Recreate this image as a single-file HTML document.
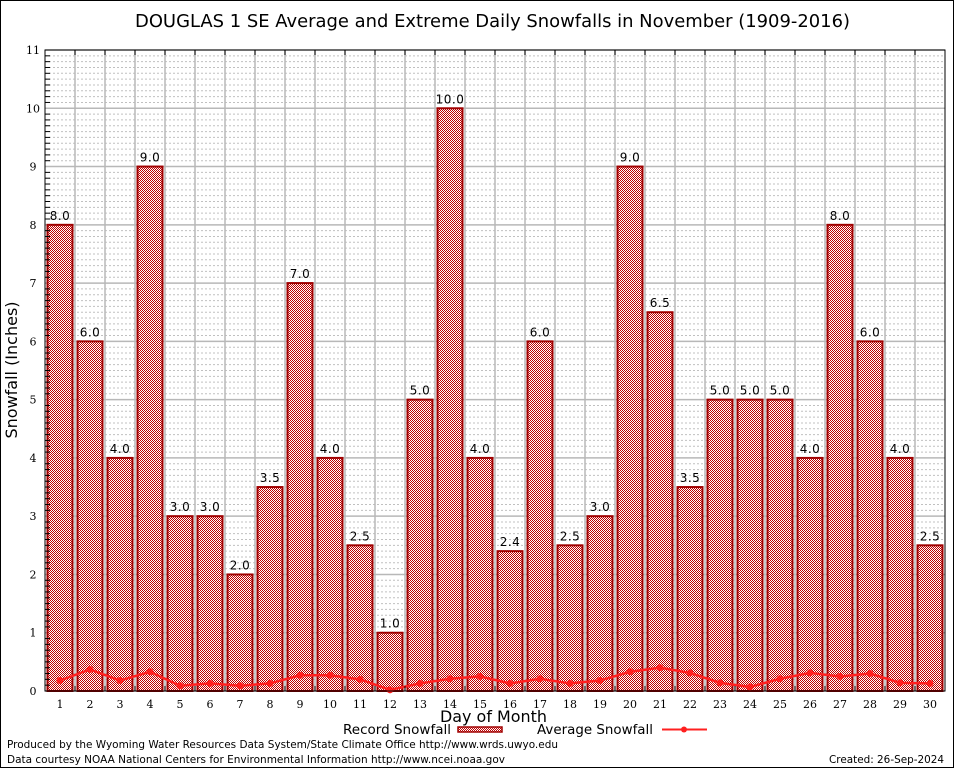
<!DOCTYPE html>
<html><head><meta charset="utf-8"><style>
body{margin:0;background:#fff}
svg text{font-family:"DejaVu Sans","Liberation Sans",sans-serif}
.serif{font-family:"DejaVu Serif","Liberation Serif",serif}
</style></head><body>
<svg id="c" width="954" height="768" xmlns="http://www.w3.org/2000/svg">
<defs>
<pattern id="chk" width="2" height="2" patternUnits="userSpaceOnUse">
<rect width="2" height="2" fill="#fff"/><rect width="1" height="1" fill="#c00000"/><rect x="1" y="1" width="1" height="1" fill="#c00000"/>
</pattern>
</defs>
<rect x="0.5" y="0.5" width="953" height="767" fill="#fff" stroke="#000"/>
<text x="135" y="27" textLength="715" lengthAdjust="spacingAndGlyphs" font-size="17.5">DOUGLAS 1 SE Average and Extreme Daily Snowfalls in November (1909-2016)</text>
<g id="grid"></g>
<g id="bars"></g>
<g id="avg"></g>
<rect x="45" y="50" width="900" height="641" fill="none" stroke="#000"/>
<g id="axes"></g>
<text transform="translate(17,370) rotate(-90)" text-anchor="middle" font-size="16">Snowfall (Inches)</text>
<text x="440" y="722" textLength="107" lengthAdjust="spacingAndGlyphs" font-size="16">Day of Month</text>
<g>
<text x="343" y="734" textLength="108" lengthAdjust="spacingAndGlyphs" font-size="13">Record Snowfall</text>
<rect x="458" y="727" width="44" height="5" fill="url(#chk)" stroke="#a00000" stroke-width="1.5"/>
<text x="537" y="734" textLength="116" lengthAdjust="spacingAndGlyphs" font-size="13">Average Snowfall</text>
<line x1="662" y1="729.5" x2="707" y2="729.5" stroke="#ff2020" stroke-width="2"/>
<circle cx="684" cy="729.5" r="3" fill="#ff2020"/>
</g>
<text x="7" y="748" textLength="551" lengthAdjust="spacingAndGlyphs" font-size="11">Produced by the Wyoming Water Resources Data System/State Climate Office http://www.wrds.uwyo.edu</text>
<text x="7" y="763" textLength="498" lengthAdjust="spacingAndGlyphs" font-size="11">Data courtesy NOAA National Centers for Environmental Information http://www.ncei.noaa.gov</text>
<text x="829" y="763" textLength="115" lengthAdjust="spacingAndGlyphs" font-size="11">Created: 26-Sep-2024</text>
</svg>
<script>
const days=[1,2,3,4,5,6,7,8,9,10,11,12,13,14,15,16,17,18,19,20,21,22,23,24,25,26,27,28,29,30];
const recordSnow=[8,6,4,9,3,3,2,3.5,7,4,2.5,1,5,10,4,2.4,6,2.5,3,9,6.5,3.5,5,5,5,4,8,6,4,2.5];
const avgSnow=[0.18,0.37,0.18,0.33,0.09,0.13,0.09,0.13,0.27,0.27,0.2,0.02,0.13,0.21,0.25,0.13,0.21,0.13,0.18,0.33,0.4,0.31,0.14,0.07,0.21,0.31,0.25,0.3,0.14,0.13];
const yTicks=[0,1,2,3,4,5,6,7,8,9,10,11];
const NS="http://www.w3.org/2000/svg";
const X0=45,X1=945,Y0=691,Y1=50,YMAX=11;
const xs=d=>X0+15+(d-1)*30;
const ys=v=>Y0-(v/YMAX)*(Y0-Y1);
function mk(tag,attrs,parent){const e=document.createElementNS(NS,tag);for(const k in attrs)e.setAttribute(k,attrs[k]);parent.appendChild(e);return e;}
const grid=document.getElementById('grid'),bars=document.getElementById('bars'),avg=document.getElementById('avg'),axes=document.getElementById('axes');
for(let i=1;i<YMAX*10;i++){if(i%10===0)continue;const y=ys(i/10);
const l=mk('line',{x1:X0,x2:X1,y1:y,y2:y,stroke:'#c0c0c0','stroke-width':1,'stroke-dasharray':'2,2'},grid);


const t=mk('line',{x1:X0,x2:X0+5,y1:y,y2:y,stroke:'#000'},axes);

}
yTicks.forEach(v=>{const y=ys(v);
const l=mk('line',{x1:X0,x2:X1,y1:y,y2:y,stroke:'#b8b8b8','stroke-width':1.5},grid);


const t=mk('text',{x:33,y:y+4,'text-anchor':'middle','font-size':11,class:'serif'},axes);t.textContent=v;

});
for(let i=1;i<days.length;i++){const x=X0+i*30;
const l=mk('line',{x1:x,x2:x,y1:Y1,y2:Y0,stroke:'#b8b8b8','stroke-width':1.5},grid);


const t=mk('line',{x1:x,x2:x,y1:Y0,y2:Y0-5,stroke:'#000'},axes);


const t2=mk('line',{x1:x,x2:x,y1:Y1,y2:Y1+5,stroke:'#000'},axes);

}
days.forEach((d,i)=>{const v=recordSnow[i],x=xs(d),y=ys(v);
const r=mk('rect',{x:x-12.5,y:y,width:25,height:Y0-y,fill:'url(#chk)',stroke:'#a00000','stroke-width':2},bars);


const t=mk('text',{x:x,y:y-5,'text-anchor':'middle','font-size':12,'letter-spacing':'0.5'},bars);t.textContent=v.toFixed(1);


const xl=mk('text',{x:x,y:708,'text-anchor':'middle','font-size':11,class:'serif'},axes);xl.textContent=d;

});
const pts=days.map((d,i)=>xs(d)+','+ys(avgSnow[i])).join(' ');
const pl=mk('polyline',{points:pts,fill:'none',stroke:'#ff2020','stroke-width':2.5},avg);


days.forEach((d,i)=>{const c=mk('circle',{cx:xs(d),cy:ys(avgSnow[i]),r:3.5,fill:'#ff2020'},avg);

});
</script>
</body></html>
